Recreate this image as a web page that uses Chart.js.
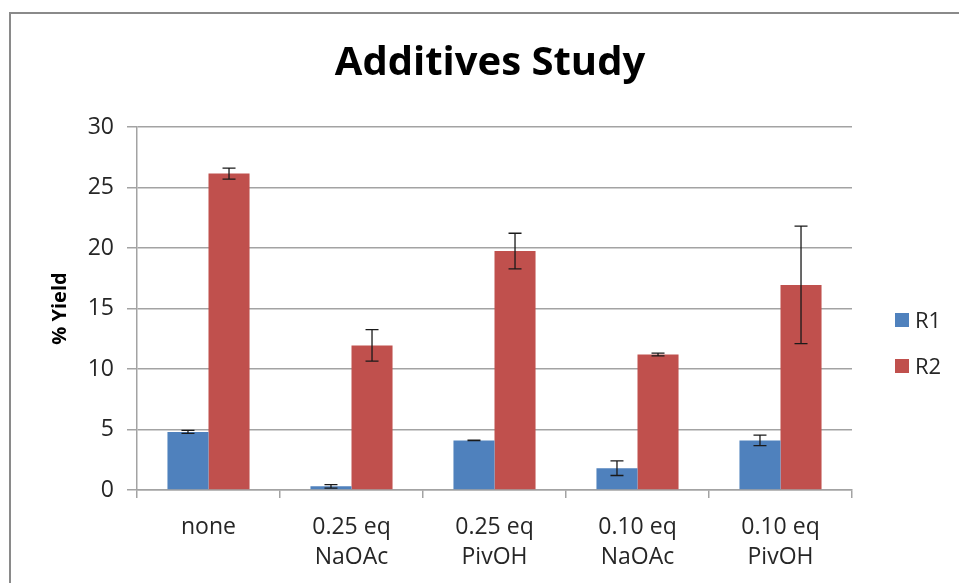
<!DOCTYPE html>
<html>
<head>
<meta charset="utf-8">
<script src="https://cdn.jsdelivr.net/npm/chart.js@4.4.1/dist/chart.umd.min.js"></script>
<style>
  html, body { margin: 0; padding: 0; background: #fff; overflow: hidden; width: 959px; height: 583px; }
  #frame { position: absolute; left: 9px; top: 12px; width: 960px; height: 580px;
           border-left: 2px solid #8a8a8a; border-top: 2px solid #8a8a8a; }
  #chart { position: absolute; left: 11px; top: 14px; }
  .leg { position: absolute; font: 22px "Open Sans", sans-serif; color: #262626; line-height: 1; }
  .leg span { position: absolute; width: 14px; height: 14px; left: 0; top: 0; }
  .leg b { position: absolute; left: 20px; top: -5px; font-weight: normal; white-space: nowrap; }
</style>
</head>
<body>
<div id="frame"></div>
<canvas id="chart" width="958" height="569"></canvas>
<div id="legend"></div>
<script>
/* eslint-disable */
const categories = ['none', ['0.25 eq', 'NaOAc'], ['0.25 eq', 'PivOH'], ['0.10 eq', 'NaOAc'], ['0.10 eq', 'PivOH']];
const seriesNames = ['R1', 'R2'];
const r1 = [4.8, 0.3, 4.1, 1.8, 4.1];
const r1Err = [0.12, 0.14, 0.02, 0.6, 0.44];
const r2 = [26.15, 11.95, 19.75, 11.2, 16.95];
const r2Err = [0.45, 1.3, 1.47, 0.12, 4.85];
const yTicks = [0, 5, 10, 15, 20, 25, 30];

const gridColor = '#a3a3a3';
const textColor = '#262626';
const font = '"Open Sans", sans-serif';

// error bars drawn from the bar elements and the y scale
const errorBars = {
  id: 'errorBars',
  afterDatasetsDraw(chart) {
    const { ctx, scales: { y } } = chart;
    ctx.save();
    ctx.strokeStyle = '#1a1a1a';
    ctx.lineWidth = 1.3;
    chart.data.datasets.forEach((ds, di) => {
      const meta = chart.getDatasetMeta(di);
      meta.data.forEach((bar, i) => {
        const v = ds.data[i], e = ds.errors[i];
        const top = y.getPixelForValue(v + e);
        const bot = y.getPixelForValue(v - e);
        const x = bar.x;
        ctx.beginPath();
        ctx.moveTo(x, top); ctx.lineTo(x, bot);
        ctx.moveTo(x - 6.5, top); ctx.lineTo(x + 6.5, top);
        ctx.moveTo(x - 6.5, bot); ctx.lineTo(x + 6.5, bot);
        ctx.stroke();
      });
    });
    ctx.restore();
  }
};

const ctx = document.getElementById('chart').getContext('2d');
const chart = new Chart(ctx, {
  type: 'bar',
  data: {
    labels: categories,
    datasets: [
      { label: seriesNames[0], data: r1, errors: r1Err, backgroundColor: '#4f81bd' },
      { label: seriesNames[1], data: r2, errors: r2Err, backgroundColor: '#c0504d' }
    ]
  },
  options: {
    responsive: false,
    animation: false,
    devicePixelRatio: 1,
    layout: { padding: 0 },
    datasets: { bar: { barPercentage: 1, categoryPercentage: 0.574 } },
    plugins: {
      legend: { display: false },
      tooltip: { enabled: false },
      title: {
        display: true,
        text: 'Additives Study',
        color: '#000',
        font: { family: font, size: 40, weight: 'bold', lineHeight: 1.2 },
        padding: { top: 26, bottom: 39 }
      }
    },
    scales: {
      x: {
        grid: { drawOnChartArea: false, color: gridColor, lineWidth: 1.5, tickLength: 8, offset: true },
        border: { color: gridColor, width: 1.5 },
        ticks: { color: textColor, font: { family: font, size: 23, lineHeight: 1.33 }, padding: 14, maxRotation: 0 },
        afterFit(s) { s.height = 93; }
      },
      y: {
        min: 0,
        max: 30,
        afterBuildTicks(s) { s.ticks = yTicks.map(v => ({ value: v })); },
        grid: { color: gridColor, lineWidth: 1.5, tickLength: 10 },
        border: { color: gridColor, width: 1.5 },
        ticks: { color: textColor, font: { family: font, size: 23 }, padding: 13 },
        title: {
          display: true,
          text: '% Yield',
          color: '#000',
          font: { family: font, size: 20, weight: 'bold', lineHeight: 1.2 },
          padding: { top: 37, bottom: 0 }
        },
        afterFit(s) { s.width = 126; }
      },
      // empty right-hand space where the legend sits
      legendSpace: {
        position: 'right',
        grid: { display: false },
        border: { display: false },
        ticks: { display: false },
        afterFit(s) { s.width = 117; }
      }
    }
  },
  plugins: [errorBars]
});

// legend from the datasets
const legend = document.getElementById('legend');
chart.data.datasets.forEach((ds, i) => {
  const d = document.createElement('div');
  d.className = 'leg';
  d.style.left = '895px';
  d.style.top = (313 + i * 46) + 'px';
  d.innerHTML = '<span style="background:' + ds.backgroundColor + '"></span><b>' + ds.label + '</b>';
  legend.appendChild(d);
});
</script>
</body>
</html>
